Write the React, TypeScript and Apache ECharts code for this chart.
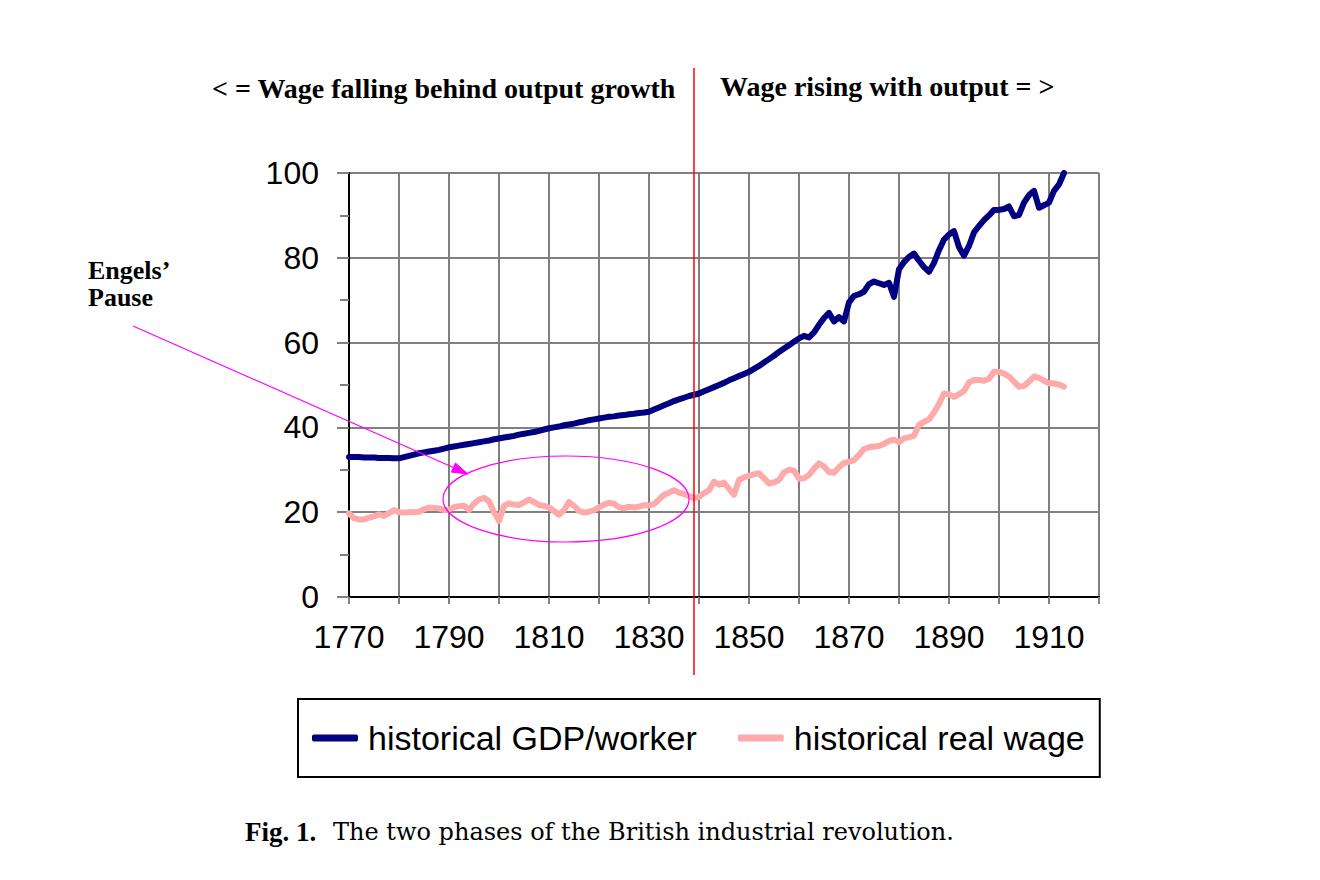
import React, { useEffect, useRef } from "react";
import * as echarts from "echarts";

const START_YEAR = 1770;
const years: number[] = Array.from({ length: 144 }, (_, i) => START_YEAR + i);

const gdpPerWorker: number[] = [
  33.0, 33.0, 33.0, 32.9, 32.9, 32.9, 32.8, 32.8, 32.8, 32.7,
  32.7, 33.0, 33.3, 33.6, 33.9, 34.1, 34.3, 34.5, 34.7, 35.0,
  35.3, 35.5, 35.7, 35.9, 36.1, 36.3, 36.5, 36.7, 36.9, 37.2,
  37.4, 37.6, 37.8, 38.0, 38.3, 38.5, 38.7, 38.9, 39.2, 39.5,
  39.8, 40.0, 40.2, 40.5, 40.7, 40.9, 41.2, 41.4, 41.7, 41.9,
  42.1, 42.3, 42.5, 42.6, 42.8, 42.9, 43.1, 43.2, 43.4, 43.5,
  43.7, 44.2, 44.7, 45.2, 45.7, 46.2, 46.6, 47.0, 47.4, 47.7,
  48.0, 48.5, 49.0, 49.5, 50.0, 50.5, 51.1, 51.6, 52.1, 52.6,
  53.1, 53.8, 54.5, 55.3, 56.1, 56.9, 57.8, 58.6, 59.4, 60.2,
  61.0, 61.6, 61.2, 62.4, 64.2, 65.8, 67.0, 65.0, 66.0, 65.0,
  69.5, 71.0, 71.4, 72.0, 73.8, 74.4, 74.0, 73.6, 74.1, 70.8,
  77.3, 79.0, 80.2, 81.0, 79.3, 77.8, 76.7, 78.8, 81.8, 84.3,
  85.5, 86.3, 82.5, 80.5, 82.8, 86.0, 87.5, 88.9, 90.0, 91.3,
  91.3, 91.5, 92.1, 89.8, 90.1, 93.0, 94.8, 95.8, 91.8, 92.4,
  93.0, 95.8, 97.3, 100.0,
];

const realWage: number[] = [
  19.7, 18.6, 18.3, 18.3, 18.7, 19.0, 19.5, 19.1, 19.8, 20.5,
  20.0, 19.9, 20.0, 20.0, 20.1, 20.7, 21.1, 21.0, 20.9, 20.5,
  20.6, 21.2, 21.4, 21.5, 20.5, 22.0, 23.0, 23.4, 22.6, 20.0,
  18.0, 21.5, 22.1, 21.8, 21.7, 22.3, 23.0, 22.4, 21.7, 21.5,
  21.1, 20.3, 19.4, 20.5, 22.4, 21.5, 20.3, 19.9, 20.1, 20.5,
  21.1, 21.8, 22.2, 22.0, 21.2, 20.9, 21.3, 21.1, 21.3, 21.7,
  21.6, 21.9, 23.0, 24.1, 24.6, 25.2, 24.6, 24.3, 23.8, 23.3,
  23.6, 24.5, 25.2, 27.2, 26.5, 27.0, 25.5, 24.1, 27.6, 28.2,
  28.6, 28.9, 29.2, 28.0, 26.8, 27.0, 27.6, 29.4, 30.0, 29.8,
  27.9, 28.0, 28.8, 30.3, 31.5, 30.8, 29.5, 29.3, 30.6, 31.6,
  31.9, 32.3, 33.5, 34.9, 35.3, 35.5, 35.6, 36.1, 36.8, 37.1,
  36.5, 37.4, 37.7, 38.0, 40.6, 41.3, 41.9, 43.5, 45.5, 48.0,
  47.8, 47.2, 47.8, 48.6, 50.6, 51.2, 51.2, 51.0, 51.5, 53.1,
  53.1, 52.7, 52.0, 50.8, 49.6, 49.8, 50.8, 52.0, 51.7, 51.0,
  50.4, 50.4, 50.1, 49.6,
];

const seriesNames = ["historical GDP/worker", "historical real wage"];
const leftHeading = "< = Wage falling behind output growth";
const rightHeading = "Wage rising with output = >";
const noteText = "Engels\u2019\nPause";
const captionBold = "Fig. 1.";
const captionText = "The two phases of the British industrial revolution.";

const GRID = "#808080";
const MAGENTA = "#FF00FF";

export default function App() {
  const ref = useRef<HTMLDivElement>(null);

  useEffect(() => {
    document.body.style.margin = "0";
    if (!ref.current) return;
    const chart = echarts.init(ref.current, undefined, { renderer: "svg" });

    const gdpData = years.map((y, i) => [y, gdpPerWorker[i]]);
    const wageData = years.map((y, i) => [y, realWage[i]]);

    // arrow geometry (annotation)
    const sx = 133, sy = 326, tx = 468, ty = 474;
    const len = Math.hypot(tx - sx, ty - sy);
    const ux = (tx - sx) / len, uy = (ty - sy) / len;
    const nx = -uy, ny = ux;
    const bx = tx - 16 * ux, by = ty - 16 * uy;

    const option: any = {
      animation: false,
      backgroundColor: "#ffffff",
      grid: { left: 349, top: 173, right: 221, bottom: 283 },
      legend: {
        data: seriesNames,
        left: 298,
        top: 699,
        orient: "horizontal",
        icon: "roundRect",
        itemWidth: 46,
        itemHeight: 7,
        itemGap: 41,
        padding: [22, 15, 22, 14],
        borderColor: "#000000",
        borderWidth: 2,
        textStyle: {
          fontFamily: "Liberation Sans",
          fontSize: 34,
          color: "#000000",
          padding: [0, 0, 0, 5],
        },
      },
      xAxis: [
        {
          type: "value",
          min: 1770,
          max: 1920,
          interval: 10,
          axisLine: { show: true, lineStyle: { color: "#000000", width: 2 } },
          axisTick: { show: true, length: 7, lineStyle: { color: GRID, width: 2 } },
          splitLine: { show: true, lineStyle: { color: GRID, width: 2 } },
          axisLabel: {
            margin: 24,
            fontFamily: "Liberation Sans",
            fontSize: 32,
            color: "#000000",
            formatter: (v: number) =>
              (v - 1770) % 20 === 0 && v <= 1910 ? String(v) : "",
          },
        },
        {
          type: "value",
          position: "top",
          min: 1770,
          max: 1920,
          interval: 10,
          axisLine: { show: true, lineStyle: { color: "#000000", width: 2 } },
          axisTick: { show: false },
          axisLabel: { show: false },
          splitLine: { show: false },
        },
      ],
      yAxis: [
        {
          type: "value",
          min: 0,
          max: 100,
          interval: 20,
          axisLine: { show: true, lineStyle: { color: "#000000", width: 2 } },
          axisTick: { show: true, length: 12, lineStyle: { color: GRID, width: 2 } },
          minorTick: { show: true, splitNumber: 2, length: 9, lineStyle: { color: GRID, width: 2 } },
          splitLine: { show: true, lineStyle: { color: GRID, width: 2 } },
          axisLabel: {
            margin: 30,
            fontFamily: "Liberation Sans",
            fontSize: 32,
            color: "#000000",
          },
        },
        {
          type: "value",
          position: "left",
          min: 0,
          max: 100,
          interval: 20,
          axisLine: { show: false },
          axisTick: { show: false },
          minorTick: { show: true, splitNumber: 2, length: 7, lineStyle: { color: GRID, width: 2 } },
          axisLabel: { show: false },
          splitLine: { show: false },
          axisPointer: { show: false },
        },
      ],
      series: [
        {
          name: seriesNames[0],
          type: "line",
          data: gdpData,
          showSymbol: false,
          symbol: "none",
          color: "#000080",
          lineStyle: { color: "#000080", width: 6, cap: "round", join: "round" },
          itemStyle: { color: "#000080" },
          z: 3,
        },
        {
          name: seriesNames[1],
          type: "line",
          data: wageData,
          showSymbol: false,
          symbol: "none",
          color: "#FFAAAA",
          lineStyle: { color: "#FFAAAA", width: 6, cap: "round", join: "round" },
          itemStyle: { color: "#FFAAAA" },
          z: 2,
        },
      ],
      graphic: [
        {
          type: "line",
          z: 10,
          shape: { x1: 694, y1: 68, x2: 694, y2: 675 },
          style: { stroke: "#FF0000", lineWidth: 1.5 },
        },
        {
          type: "text",
          x: 212,
          y: 88,
          style: {
            text: leftHeading,
            fontFamily: "Liberation Serif",
            fontWeight: "bold",
            fontSize: 28,
            fill: "#000000",
            textVerticalAlign: "middle",
          },
        },
        {
          type: "text",
          x: 720,
          y: 86,
          style: {
            text: rightHeading,
            fontFamily: "Liberation Serif",
            fontWeight: "bold",
            fontSize: 28,
            fill: "#000000",
            textVerticalAlign: "middle",
          },
        },
        {
          type: "text",
          x: 88,
          y: 284,
          style: {
            text: noteText,
            fontFamily: "Liberation Serif",
            fontWeight: "bold",
            fontSize: 26,
            lineHeight: 27,
            fill: "#000000",
            textVerticalAlign: "middle",
          },
        },
        {
          type: "line",
          z: 10,
          shape: { x1: sx, y1: sy, x2: bx, y2: by },
          style: { stroke: MAGENTA, lineWidth: 1.2 },
        },
        {
          type: "polygon",
          z: 10,
          shape: {
            points: [
              [tx, ty],
              [bx + 5 * nx, by + 5 * ny],
              [bx - 5 * nx, by - 5 * ny],
            ],
          },
          style: { fill: MAGENTA, stroke: MAGENTA, lineWidth: 1 },
        },
        {
          type: "ellipse",
          z: 10,
          shape: { cx: 566, cy: 499, rx: 123, ry: 43 },
          style: { fill: "none", stroke: MAGENTA, lineWidth: 1.2 },
        },
        {
          type: "text",
          x: 245,
          y: 832,
          style: {
            text: captionBold,
            fontFamily: "Liberation Serif",
            fontWeight: "bold",
            fontSize: 27,
            fill: "#000000",
            textVerticalAlign: "middle",
          },
        },
        {
          type: "text",
          x: 333,
          y: 832,
          style: {
            text: captionText,
            fontFamily: "DejaVu Serif",
            fontSize: 24,
            fill: "#000000",
            textVerticalAlign: "middle",
          },
        },
      ],
    };

    chart.setOption(option);
    return () => {
      chart.dispose();
    };
  }, []);

  return <div ref={ref} style={{ width: 1320, height: 880 }} />;
}
